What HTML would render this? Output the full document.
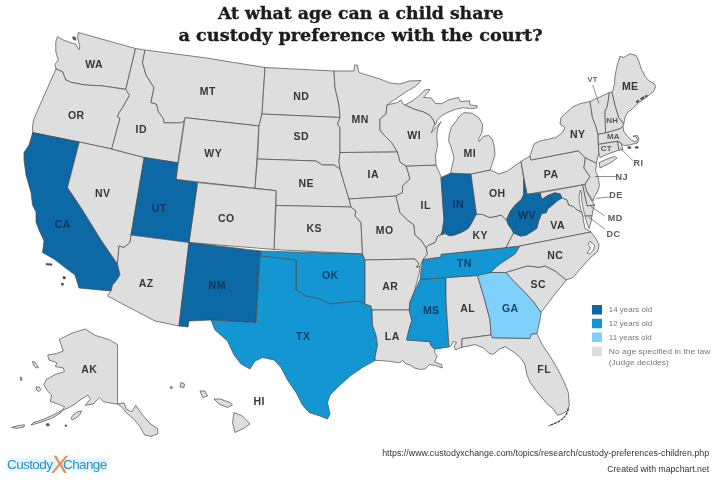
<!DOCTYPE html>
<html><head><meta charset="utf-8"><title>At what age can a child share a custody preference with the court?</title>
<style>
html,body{margin:0;padding:0;background:#fff}
body{width:720px;height:483px;overflow:hidden;position:relative;font-family:"Liberation Sans",sans-serif}
svg{position:absolute;left:0;top:0;display:block}
.st path{stroke:#4a4a4a;stroke-width:.7;stroke-linejoin:round}
.lb text{font:bold 10.5px "Liberation Sans",sans-serif;fill:#363636;text-anchor:middle;letter-spacing:.5px}
.lb .out{font-size:9px;fill:#5a5a5a;letter-spacing:.4px}
.lb .sm{font-size:8px;fill:#555;letter-spacing:.2px}
.ld line{stroke:#444;stroke-width:.6}
.lg text{font:7.6px "Liberation Sans",sans-serif;fill:#777}
.ft text{font:8.3px "Liberation Sans",sans-serif;fill:#333;text-anchor:end}
.tt text{font:bold 16.6px "DejaVu Serif","Liberation Serif",serif;fill:#1c1c1c;stroke:#1c1c1c;stroke-width:.35px}
</style></head><body>
<svg width="720" height="483" viewBox="0 0 720 483">
<rect width="720" height="483" fill="#fff"/>
<g class="st">
<path d="M57.5,36.7L63.3,40L70,42.5L75.8,44.2L77.3,47L79.2,49.7L79.8,46L78.4,41L77.6,37L78.3,32.5L135.5,48.5L125.8,89.4L101.7,85.8L85,85L71.7,82.5L65.8,80L62.5,71.7L56,69L55,64.2L58.3,60L55.8,51.7L55.8,41.7Z" fill="#dedede"/>
<path d="M56,69L62.5,71.7L65.8,80L71.7,82.5L85,85L101.7,85.8L125.8,89.4L129.5,95.4L122.1,108.4L119.2,112.5L117.5,116.7L120,118.3L111.7,149L79.3,142L32.7,132.6L32.5,127L33.6,119.6L40.1,104.7L46.7,89.8L53.2,75Z" fill="#dedede"/>
<path d="M32.7,132.6L79.3,142L67.5,187.5L82.5,210L101,240L117.5,264L120,275L116,281L112.5,285L111,291L79,288L75,275L65,267.5L54,259L42.5,252.5L44,241L39,230L36,222L36,212L32.5,205L31,192.5L26,175L24,160L24,152.5L29,145Z" fill="#0d68a6"/>
<path d="M79.3,142L111.7,149L144.2,157.5L131,235L130,242.5L124,247.5L119,246L117.5,264L101,240L82.5,210L67.5,187.5Z" fill="#dedede"/>
<path d="M135.5,48.5L145,50L142.5,62.5L146,75L154,87.5L151,102.5L156.7,104.2L158.3,111.7L163.3,118.3L164.2,122.7L180.8,122.7L184.2,120.8L177.7,162.8L144.2,157.5L111.7,149L120,118.3L117.5,116.7L119.2,112.5L122.1,108.4L129.5,95.4L125.8,89.4Z" fill="#dedede"/>
<path d="M145,50L205,57.8L265,67.5L262,114L259,126L185,117.7L184.2,120.8L180.8,122.7L164.2,122.7L163.3,118.3L158.3,111.7L156.7,104.2L151,102.5L154,87.5L146,75L142.5,62.5Z" fill="#dedede"/>
<path d="M185,117.7L259,126L255,188.2L176,179.5Z" fill="#dedede"/>
<path d="M265,67.5L334,71L335,87.5L339,105L340,117.5L262,114Z" fill="#dedede"/>
<path d="M262,114L340,117.5L337.5,124L340,127.5L340,152.5L339,161L340,169L334,165L322.5,165L316,161L257.5,159L259,126Z" fill="#dedede"/>
<path d="M257.5,159L316,161L322.5,165L334,165L340,169L344,182.5L349,199L351,207L276,205.5L276,190.7L255,188.2Z" fill="#dedede"/>
<path d="M276,205.5L351,207L356,211L355,216L361,222.5L362.5,254L274,249.5Z" fill="#dedede"/>
<path d="M197.5,182.5L276,190.7L274,249.5L189,242.5Z" fill="#dedede"/>
<path d="M144.2,157.5L177.7,162.8L176,179.5L197.5,182.5L189,242.5L131,235Z" fill="#0d68a6"/>
<path d="M131,235L189,242.5L179,326L155,321L107.5,296L111,291L112.5,285L116,281L120,275L117.5,264L119,246L124,247.5L130,242.5Z" fill="#dedede"/>
<path d="M189,242.5L261,251L260,256L256,322.5L211,320L189,321L188,327L179,326Z" fill="#0d68a6"/>
<path d="M261,251L362.5,254L365,260L365,304L357.5,301L345,302.5L330,304L320,299L305,296L296,290L296,260L260,256Z" fill="#1496d2"/>
<path d="M260,256L296,260L296,290L305,296L320,299L330,304L345,302.5L357.5,301L365,304L371,306L372,310L372.5,325L376,335L377.5,345L375,357.5L375.3,360.3L362.5,367.5L350,376L337.5,387.5L330,395L327.5,402.5L330,414L327.5,419L320,416L309,412.5L302.5,405L296,392.5L287.5,380L281,367.5L274,360L262.5,357.5L255,361L250,369L241,364L234,355L227.5,341L215,330L211,320L256,322.5Z" fill="#1496d2"/>
<path d="M334,71L354,71L354.5,65L357,65L359,72.5L370,76L380,79L390,83L400,84L409,81L421,80.5L416,86L405,92.5L392.5,101L387,105L386,114L380,119L380,130L384,135L392,143L397.5,152L340,152.5L340,127.5L337.5,124L340,117.5L339,105L335,87.5Z" fill="#dedede"/>
<path d="M340,152.5L397.5,152L400,162L406,166L407.5,170L410,179L402.5,186L402.5,192.5L396,196L349,199L344,182.5L340,169L339,161Z" fill="#dedede"/>
<path d="M349,199L396,196L400,212.5L407.5,220L414,225L415,235L421,240L426,247.5L427.5,254L423,259.5L420,267L416,267L419,264L415,259L365,260L362.5,254L361,222.5L355,216L356,211L351,207Z" fill="#dedede"/>
<path d="M365,260L415,259L419,264L416,267L420,267L419,274L414,292.5L410,302L409.2,310L372,310L371,306L365,304Z" fill="#dedede"/>
<path d="M372,310L409.2,310L411.8,320.4L408.4,332.3L406.7,339.9L429.6,341.6L431.3,345.8L434.7,349.2L434.7,352.6L437.2,356L434.7,362L441.5,364.5L442.3,367.9L434.7,365.4L429.6,364.5L425.4,368.8L420.3,369.6L414.3,367.9L410.9,365.4L405.8,363.7L402.4,360.3L399.9,362.8L387.2,361.1L375.3,360.3L375,357.5L377.5,345L376,335L372.5,325Z" fill="#dedede"/>
<path d="M420,279.5L446,277.5L446,300L449,347L434.7,349.2L431.3,345.8L429.6,341.6L406.7,339.9L408.4,332.3L411.8,320.4L409.2,310L410,302L414,292.5Z" fill="#1496d2"/>
<path d="M446,277.5L477.5,275.5L484,297.5L490,320L491,335L462,338.7L462,347.3L458.5,348.4L455.5,350L454,346L456.5,342.5L453,341.5L451.5,345.5L449,347L446,300Z" fill="#dedede"/>
<path d="M423,259.5L441,257L441,254.3L520,246L515,254L507.5,259L500,264L494,269L491,272.5L477.5,275.5L446,277.5L420,279.5L421,270Z" fill="#1496d2"/>
<path d="M423,259.5L441,257L441,254.3L506,247.6L513.6,233L512,229.8L508.2,224.3L506.6,219.7L504.3,218L501.2,215L495,216.6L490,217.5L482.5,214.5L476.5,214L474.4,217.5L471,224L468.2,228.3L464,231L459.5,233.2L454,235L449.5,235.7L445,233.5L441,234.7L437.5,236L435,242.5L429,245L426,247.5L427.5,254Z" fill="#dedede"/>
<path d="M406,166L436,165L440,174L441,177.5L444,220L442.5,230L441,234.7L437.5,236L435,242.5L429,245L426,247.5L421,240L415,235L414,225L407.5,220L400,212.5L396,196L402.5,192.5L402.5,186L410,179L407.5,170Z" fill="#dedede"/>
<path d="M441,177.5L451,173L471,174L476.5,214L474.4,217.5L471,224L468.2,228.3L464,231L459.5,233.2L454,235L449.5,235.7L445,233.5L441,234.7L442.5,230L444,220Z" fill="#0d68a6"/>
<path d="M471,174L490,170L499,174L507.5,171L521,161.5L523.7,179.3L523.7,194.5L521.4,199.5L515.2,205L510.5,211L506.6,219.7L504.3,218L501.2,215L495,216.6L490,217.5L482.5,214.5L476.5,214Z" fill="#dedede"/>
<path d="M451,171L454,157.5L451,146.7L448.6,141.1L449.3,134.2L451.4,127.2L455.6,121.7L459.7,116.1L463.9,112.6L472.2,113.3L479.2,118.2L482.6,124.4L481.9,132.8L478.5,139L479.2,141.8L483.3,136.25L488.9,135.5L492.4,139.7L494.4,146.7L495,155L490,170L471,174L451,173Z" fill="#dedede"/>
<path d="M404.9,105L412.5,100.8L418,96.7L422.9,91.8L425.7,89.7L429.9,89.4L428.5,91.8L423.6,97.4L431.25,98L435.4,103.6L441.7,103.6L447.9,100.1L458.3,97.4L460.4,101.5L469.4,100.8L470.1,105L477.1,105.7L477.1,107.8L472.2,108.5L462.5,107.8L455.6,109.2L447.2,112.6L441,116.1L436.8,121L435.4,125.1L434.7,124.4L433.3,120.3L429.9,115.4L423.6,112L413.9,109.2Z" fill="#dedede"/>
<path d="M387,105L397.5,102.5L401,100L403,104L404.9,105L413.9,109.2L423.6,112L429.9,115.4L433.3,120.3L434.7,124.4L431.25,132.8L441,121.7L437.5,128.6L436.8,135.5L437.5,146.7L435.5,155L436,165L406,166L400,162L397.5,152L392,143L384,135L380,130L380,119L386,114Z" fill="#dedede"/>
<path d="M521,161.5L530,156L531,160L578.3,150.8L585.3,157.8L583.9,168L590,176.5L585,184.3L580,185.3L527,194.3Z" fill="#dedede"/>
<path d="M530,156L534,144L540,141L556,137.5L562.5,132.5L565,127.5L560,124L561,117.5L572.5,107L580,103.75L590,101.5L592.5,117.5L596.25,127.5L598,134.4L598.4,144.4L598.75,152.5L596.4,163.3L585.3,157.8L578.3,150.8L531,160Z" fill="#dedede"/>
<path d="M599,162.5L607,159L614.5,156.3L617,158L611,162.5L604,166L600,168Z" fill="#dedede"/>
<path d="M585.3,157.8L596.4,163.3L595.7,171.7L597.8,175.8L599.5,185.5L597.8,191L594.3,197L593,201L590,196L586,190L585,184.3L590,176.5L583.9,168Z" fill="#dedede"/>
<path d="M590,101.5L609.4,92.5L608,102.5L606.9,107.5L605,111.25L605.6,133L598,134.4L596.25,127.5L592.5,117.5Z" fill="#dedede"/>
<path d="M609.4,92.5L612,92L615,105L618.75,117.5L623.75,123.75L623,126.25L620,128.75L605.6,133L605,111.25L606.9,107.5L608,102.5Z" fill="#dedede"/>
<path d="M612,92L613.1,90L614.4,83.75L615,76.25L616.9,66.25L620,56.25L623.75,57.5L630,53.75L636.25,55.6L638.75,61.25L641.25,68.75L645,76.25L649.4,81.25L653.75,83.1L655.6,86.25L653.75,91.25L647.5,96.25L642.5,100L638.75,102.5L632.5,108.75L627.5,112.5L625,117.5L623.75,123.75L618.75,117.5L615,105Z" fill="#dedede"/>
<path d="M598,134.4L605.6,133L620,128.75L623,126.25L623.75,131.25L627.5,136.25L631.25,140L635,141.9L637.5,140L636.25,136.9L633,136.25L637,135.2L639,138.5L637.5,143L632,144.3L630,145L623.75,145.6L621,143L617.5,141.25L598.4,144.4Z" fill="#dedede"/>
<path d="M598.4,144.4L617.5,141.25L619,150L608,154L600,157.5L598.75,152.5Z" fill="#dedede"/>
<path d="M617.5,141.25L621,143L623,149.5L619,150.5Z" fill="#dedede"/>
<path d="M585,184.3L586.5,191L590,198L594.5,205L587,206L582.5,185Z" fill="#dedede"/>
<path d="M540,192.8L541.6,199.5L547.8,195.6L554.8,192.8L560.2,194L561.8,198L567,200L568.6,205L573.6,206.7L577,210L582,212.5L583,217L581,210L579.5,203L579,196L580.5,190L581.5,194L581.8,201L583.3,209L585,216L592,216L593,210L594.5,205L587,206L582.5,185Z" fill="#dedede"/>
<path d="M506,247.6L513.6,233L516.7,234.4L520.6,236L526,235.2L532.3,231.3L536.9,228.2L538.5,221.2L541.6,213.5L546.2,212.7L547.8,208.8L552.5,205L557,201L561.8,198L567,200L568.6,205L573.6,206.7L577,210L582,212.5L583,217L583.5,221L585,228.5L591,232L520,246Z" fill="#dedede"/>
<path d="M585,216L592,216L591,222L589,228.5L586.5,222Z" fill="#dedede"/>
<path d="M523.7,179.3L527,194.3L540,192.8L541.6,199.5L547.8,195.6L554.8,192.8L560.2,194L561.8,198L557,201L552.5,205L547.8,208.8L546.2,212.7L541.6,213.5L538.5,221.2L536.9,228.2L532.3,231.3L526,235.2L520.6,236L516.7,234.4L513.6,233L512,229.8L508.2,224.3L506.6,219.7L510.5,211L515.2,205L521.4,199.5L523.7,194.5Z" fill="#0d68a6"/>
<path d="M520,246L591,232L595.5,238L599,244.6L598.5,249L596.8,252.6L591.1,257L587.7,260.5L579.7,269.7L572.9,277.6L566,280L555,271L545,266L539,267.5L527.5,266L517.5,269L506,272.5L491,272.5L494,269L500,264L507.5,259L515,254Z" fill="#dedede"/>
<path d="M506,272.5L517.5,269L527.5,266L539,267.5L545,266L555,271L566,280L562.5,285L555,294L547.5,304L541,312.5L534,302.5L525,292.5L515,282.5Z" fill="#dedede"/>
<path d="M477.5,275.5L491,272.5L506,272.5L515,282.5L525,292.5L534,302.5L541,312.5L540,320L537,333.5L531,334.5L530,338.5L492.5,338L491,335L490,320L484,297.5Z" fill="#7fd0fb"/>
<path d="M462,338.7L491,335L492.5,338L530,338.5L531,334.5L537,333.5L542.2,344.6L550.9,357.6L557.4,368.5L563.9,381.5L568.3,392.4L569.3,405.4L567.2,410.9L561.7,414.1L557.4,415.2L553,408.7L546.5,403.3L541.1,396.7L535.7,390.2L530.2,382.6L528.5,378.5L527,375L524.8,364.1L520.4,357.6L513.9,352.2L505.2,346.7L499.8,348.9L493.3,354.3L488.9,353.3L483.5,347.8L474.8,344.6L466,346.5L462,347.3Z" fill="#dedede"/>
<path d="M85.2,329L72.3,333L59.3,339.4L63.2,351L56.7,353.6L47.7,355L49,360L56.7,362.7L55.5,366.6L63.2,367.9L64.5,371.7L55.5,374.3L46.4,379.5L43.8,384.7L47.7,391.2L51.6,395L50.3,401.5L58,404L64.5,406.7L60.6,413L51.6,418.3L41.2,422.2L30.9,425L33.5,422.5L43,419.5L53,415L62,410.5L68,408L75,404L80,400L84,397.6L87.8,395L90.4,399L85.2,405.4L93,404L99.4,397.6L103.3,401.5L108.5,402.8L117.5,404L124,402.8L126.6,409.3L131.8,411.8L135.7,405.4L142.1,414.4L149.9,423.5L157.7,428.7L157.7,433.8L151.2,436.4L144.7,435L139.5,426L133,418.3L126.6,413L121.4,406.7L117.5,404L117.5,344.6L108.5,339.4L95.6,335.5Z" fill="#dedede"/>
<path d="M32.5,361.5L35,362L38.5,367.5L36,368L33.5,365Z" fill="#dedede"/>
<path d="M36,387L39,387L41,389.5L39,391.5L36.5,390Z" fill="#dedede"/>
<path d="M71,418L74,414L78,411.5L81.5,411L80,414.5L76,418L72,420Z" fill="#dedede"/>
<path d="M11.5,427.5L17,425.8L24.5,424.8L24,427L17,428.3Z" fill="#dedede"/>
<path d="M20.5,377L22,378L21.5,381L20.5,380Z" fill="#dedede"/>
<path d="M181,382.5L184.5,384L184,387.5L180,387Z" fill="#dedede"/>
<path d="M200,391L205,391L207.5,396L202.5,397.5Z" fill="#dedede"/>
<path d="M214,399L220,399L230,402.5L232.5,405L227.5,407.5L219,404Z" fill="#dedede"/>
<path d="M234,412.5L242.5,416L250,424L242.5,429L235,432.5L232.5,422.5Z" fill="#dedede"/>
<path d="M170,387L172,386.5L172.5,388L170.5,388.5Z" fill="#dedede"/>
<path d="M627.5,147L630.5,146.8L631,148.2L628,148.4Z" fill="#555"/>
<path d="M635,147L638,146.6L638.3,148L635.5,148.3Z" fill="#555"/>
<path d="M590,241L594.5,245.5L593.5,250L589.5,254L587,253L590.5,248L588,244Z" fill="#fff"/>
<path d="M72.5,37.2L74.5,36.8L76,38.5L75.5,40.2L73.5,39.5Z" fill="#555"/>
<path d="M46,424L48.5,423.5L49.5,425.5L47,426Z" fill="#555"/>
<path d="M65,425L66.5,425L66.5,426.3L65,426.3Z" fill="#555"/>
<path d="M636,101.5L638.5,100L639,101.5L637,103Z" fill="#555"/>
<path d="M640.5,98.5L643.5,96.5L644.2,98L641.5,100Z" fill="#555"/>
<path d="M645,96L647,95L647.3,96.4L645.6,97.3Z" fill="#555"/>
<path d="M46,263.5L52,264L52,265.2L46,264.8Z" fill="#555"/>
<path d="M63,276.5L65.5,277L65,279L63,278.5Z" fill="#555"/>
<path d="M61.5,283L63.5,283.5L63,285.5L61.5,285Z" fill="#555"/>
</g>
<g class="ld">
<line x1="592.7" y1="85" x2="599" y2="103.5"/>
<line x1="620.4" y1="148.3" x2="633" y2="160.7"/>
<line x1="595" y1="176.5" x2="616.7" y2="176.5"/>
<line x1="596" y1="198.3" x2="610.2" y2="197"/>
<line x1="590.7" y1="206.3" x2="604.8" y2="216"/>
<line x1="588.5" y1="217" x2="604.8" y2="229"/>
<path d="M568.5,408.5Q566,418 557,422.5L548.5,426" stroke="#333" stroke-width="1.2" stroke-dasharray="3 .8" fill="none"/>
</g>
<g class="lb">
<text x="94.25" y="68.1">WA</text>
<text x="76.25" y="119.1">OR</text>
<text x="141.25" y="133.1">ID</text>
<text x="207.75" y="95.1">MT</text>
<text x="213.25" y="156.6">WY</text>
<text style="fill:#0d3557" x="159.25" y="211.6">UT</text>
<text x="226.25" y="221.6">CO</text>
<text x="102.75" y="196.6">NV</text>
<text style="fill:#0d3557" x="62.75" y="228.1">CA</text>
<text x="146.25" y="287.1">AZ</text>
<text style="fill:#0d3557" x="217.25" y="289.1">NM</text>
<text x="301.25" y="100.1">ND</text>
<text x="301.25" y="140.1">SD</text>
<text x="360.25" y="123.1">MN</text>
<text x="306.25" y="186.6">NE</text>
<text x="314.25" y="232.1">KS</text>
<text x="373.25" y="178.1">IA</text>
<text x="384.75" y="234.1">MO</text>
<text x="414.25" y="139.1">WI</text>
<text x="425.75" y="209.1">IL</text>
<text style="fill:#0d3557" x="458.25" y="208.1">IN</text>
<text x="469.75" y="156.6">MI</text>
<text x="497.25" y="196.6">OH</text>
<text x="480.25" y="239.1">KY</text>
<text style="fill:#0b3f66" x="464.25" y="267.1">TN</text>
<text style="fill:#0b3f66" x="431.25" y="314.1">MS</text>
<text x="467.75" y="312.1">AL</text>
<text style="fill:#1c4966" x="510.25" y="312.1">GA</text>
<text x="390.25" y="290.1">AR</text>
<text style="fill:#0b3f66" x="330.25" y="278.6">OK</text>
<text style="fill:#0b3f66" x="303.25" y="340.1">TX</text>
<text x="392.25" y="340.1">LA</text>
<text x="544.25" y="373.1">FL</text>
<text x="538.25" y="288.1">SC</text>
<text x="555.25" y="259.1">NC</text>
<text x="557.75" y="229.1">VA</text>
<text style="fill:#0d3557" x="527.05" y="219.1">WV</text>
<text x="551.25" y="178.1">PA</text>
<text x="577.75" y="138.1">NY</text>
<text x="630.25" y="90.1">ME</text>
<text x="89.25" y="373.1">AK</text>
<text x="259.25" y="405.1">HI</text>
<text class="out" style="font-size:7.4px" x="592.5" y="81.7">VT</text>
<text class="out" x="638.5" y="166.2">RI</text>
<text class="out" x="621.7" y="179.5">NJ</text>
<text class="out" x="616" y="198.2">DE</text>
<text class="out" x="615.2" y="220.79999999999998">MD</text>
<text class="out" x="613.5" y="236.7">DC</text>
<text class="sm" x="612.3" y="122.60000000000001">NH</text>
<text class="sm" x="613.3" y="138.70000000000002">MA</text>
<text class="sm" x="606.3" y="151.3">CT</text>
</g>
<g class="lg">
<rect x="592" y="305" width="10" height="9.5" fill="#0d68a6"/>
<text x="608.8" y="312.1" textLength="43.3" lengthAdjust="spacingAndGlyphs">14 years old</text>
<rect x="592" y="318.75" width="10" height="9.5" fill="#1496d2"/>
<text x="608.8" y="325.6" textLength="43.3" lengthAdjust="spacingAndGlyphs">12 years old</text>
<rect x="592" y="332.5" width="10" height="9.5" fill="#7fd0fb"/>
<text x="608.8" y="339.6" textLength="43" lengthAdjust="spacingAndGlyphs">11 years old</text>
<rect x="592" y="346.75" width="10" height="9.5" fill="#dedede"/>
<text x="608.8" y="353.6" textLength="101.5" lengthAdjust="spacingAndGlyphs">No age specified in the law</text>
<text x="608.8" y="364.6" textLength="60" lengthAdjust="spacingAndGlyphs">(Judge decides)</text>
</g>
<g class="tt"><text x="218" y="19.3" textLength="285.5" lengthAdjust="spacingAndGlyphs">At what age can a child share</text><text x="178.5" y="41" textLength="364" lengthAdjust="spacingAndGlyphs">a custody preference with the court?</text></g>
<g class="ft"><text x="709.2" y="455.7" textLength="327" lengthAdjust="spacingAndGlyphs">https://www.custodyxchange.com/topics/research/custody-preferences-children.php</text><text x="709.2" y="471.7" textLength="102" lengthAdjust="spacingAndGlyphs">Created with mapchart.net</text></g>
<defs><filter id="gl" x="-20%" y="-60%" width="140%" height="220%"><feGaussianBlur stdDeviation="2.2"/></filter></defs>
<rect x="6" y="458" width="102" height="13" fill="#c9ecfb" opacity=".55" filter="url(#gl)"/>
<g><text x="7" y="468.5" style="font:13.5px 'Liberation Sans',sans-serif;fill:#2b8fc0;letter-spacing:-.6px">Custody</text><text x="0" y="0" transform="translate(50.5,473) skewX(-7)" style="font:25px 'Liberation Sans',sans-serif;fill:#f08a4b">X</text><text x="63" y="468.5" style="font:13.5px 'Liberation Sans',sans-serif;fill:#2b8fc0;letter-spacing:-.6px">Change</text></g>
</svg></body></html>
